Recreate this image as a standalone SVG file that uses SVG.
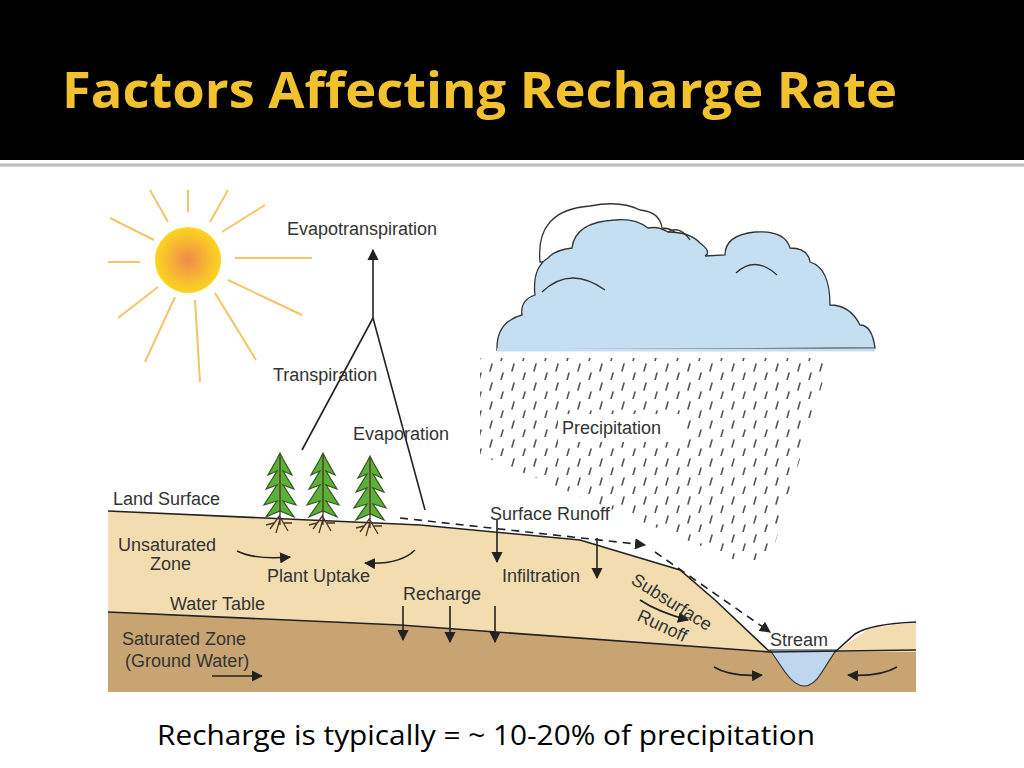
<svg xmlns="http://www.w3.org/2000/svg" width="1024" height="768" viewBox="0 0 1024 768">
<style>
.l{font-family:"Liberation Sans",Arial,sans-serif;font-size:18px;fill:#333}
.ln{stroke:#222;stroke-width:1.6;fill:none}
.ar{stroke:#222;stroke-width:1.6;fill:none;marker-end:url(#ah)}
.ray{stroke:#F4C46A;stroke-width:2}
.rain{stroke:#555;stroke-width:1.6;stroke-linecap:round}
</style>
<defs>
<marker id="ah" viewBox="0 0 10 10" refX="9" refY="5" markerWidth="7" markerHeight="7" orient="auto-start-reverse"><path d="M0,0 L10,5 L0,10 z" fill="#222"/></marker>
<radialGradient id="sun"><stop offset="0" stop-color="#F08A4B"/><stop offset="0.6" stop-color="#F8B832"/><stop offset="1" stop-color="#FBD520"/></radialGradient>
<pattern id="rp" width="22" height="19" patternUnits="userSpaceOnUse">
<line class="rain" x1="6" y1="10" x2="8" y2="3"/><line class="rain" x1="17" y1="19" x2="19" y2="12"/>
</pattern>
<g id="tree">
<path d="M0,-62 L-3,-56 L-12,-40 L-3,-44 L-14,-26 L-3,-30 L-16,-10 L-3,-14 L-14,2 L0,-4 L14,2 L3,-14 L16,-10 L3,-30 L14,-26 L3,-44 L12,-40 L3,-56 Z" fill="#5DAE3A" stroke="#2E5A1C" stroke-width="1.2"/>
<path d="M0,-60 V10 M0,0 L-10,14 M0,2 L8,16 M0,4 L-4,18 M-6,8 L-14,10 M4,8 L12,8" stroke="#4A3520" stroke-width="1.3" fill="none"/>
</g>
</defs>
<rect width="1024" height="768" fill="#fff"/>
<rect width="1024" height="160" fill="#000"/>
<line x1="0" y1="165" x2="1024" y2="165" stroke="#bbb" stroke-width="3"/>
<text x="62" y="108" font-family="'Open Sans',sans-serif" font-weight="bold" font-size="50" fill="#F2C12E" textLength="835" lengthAdjust="spacingAndGlyphs">Factors Affecting Recharge Rate</text>

<g id="ground">
<path d="M108,511 L420,525 L580,540 L680,570 L715,600 L770,652 L835,652 L870,628 L916,622 L916,692 L108,692 Z" fill="#F3DDB0"/>
<path d="M108,612 L400,625 L770,652 L916,652 L916,692 L108,692 Z" fill="#C9A473"/>
<path d="M770,650 L785,672 Q805,700 822,672 L836,650 Z" fill="#BED7EE" stroke="#333" stroke-width="1.2"/>
<path class="ln" d="M108,511 L420,525 L580,540 L680,570 L715,600 L770,652"/>
<path class="ln" d="M835,652 L855,634 Q870,624 916,622"/>
<path class="ln" d="M108,612 L400,625 L770,652 L916,650"/>
</g>

<g id="sun-g">
<g class="ray">
<line x1="188" y1="212" x2="188" y2="190"/><line x1="150" y1="190" x2="168" y2="222"/><line x1="210" y1="222" x2="228" y2="190"/>
<line x1="222" y1="232" x2="265" y2="205"/><line x1="110" y1="218" x2="154" y2="240"/><line x1="235" y1="258" x2="312" y2="258"/>
<line x1="108" y1="262" x2="140" y2="262"/><line x1="228" y1="280" x2="302" y2="315"/><line x1="118" y1="318" x2="158" y2="287"/>
<line x1="215" y1="293" x2="256" y2="360"/><line x1="145" y1="362" x2="175" y2="297"/><line x1="195" y1="300" x2="200" y2="382"/>
</g>
<circle cx="188" cy="260" r="33" fill="url(#sun)"/>
</g>

<g id="rain-g">
<polygon points="480,358 830,358 770,560 735,560 480,455" fill="url(#rp)"/>
<rect x="558" y="414" width="124" height="28" fill="#fff"/>
</g>

<g id="cloud">
<path d="M540,262 Q535,210 590,206 Q620,200 640,210 Q660,212 662,228 Q675,228 680,240 L620,260 Z" fill="#fff" stroke="#333" stroke-width="1.3"/>
<path d="M497,350 Q496,322 522,315 Q520,300 535,295 Q532,268 548,258 Q555,250 572,248 Q575,222 615,220 Q635,218 648,228 Q658,226 668,232 Q690,232 700,243 Q712,252 705,256 L725,255 Q725,235 755,232 Q785,230 790,248 Q808,248 810,262 Q830,268 830,305 Q850,305 860,325 Q872,325 875,348 Z" fill="#C5DFF2" stroke="#333" stroke-width="1.3"/>
<line x1="497" y1="350" x2="875" y2="350" stroke="#C5DFF2" stroke-width="3"/>
<path d="M542,292 Q570,265 605,290 M736,273 Q755,255 777,275 M668,232 Q680,225 690,240" fill="none" stroke="#333" stroke-width="1.3"/>
</g>

<g id="trees">
<use href="#tree" x="280" y="515"/><use href="#tree" x="323" y="515"/><use href="#tree" x="370" y="518"/>
</g>

<g id="connectors">
<line class="ar" x1="373" y1="318" x2="373" y2="250"/>
<line class="ln" x1="373" y1="318" x2="302" y2="450"/>
<line class="ln" x1="373" y1="318" x2="425" y2="510"/>
<path class="ar" d="M400,518 L645,545" stroke-dasharray="8,6"/>
<path class="ar" d="M655,552 L770,632" stroke-dasharray="8,6"/>
<line class="ar" x1="497" y1="520" x2="497" y2="562"/>
<line class="ar" x1="597" y1="538" x2="597" y2="578"/>
<line class="ar" x1="403" y1="606" x2="403" y2="640"/>
<line class="ar" x1="450" y1="606" x2="450" y2="642"/>
<line class="ar" x1="495" y1="606" x2="495" y2="642"/>
<path class="ar" d="M237,551 Q255,560 290,557"/>
<path class="ar" d="M415,550 Q400,565 365,563"/>
<path class="ar" d="M640,600 Q658,612 688,620"/>
<path class="ar" d="M714,667 Q730,677 762,675"/>
<path class="ar" d="M897,667 Q880,677 848,675"/>
<line class="ar" x1="212" y1="676" x2="262" y2="676"/>
</g>

<g id="labels">
<text class="l" x="287" y="235">Evapotranspiration</text>
<text class="l" x="273" y="381">Transpiration</text>
<text class="l" x="353" y="440">Evaporation</text>
<text class="l" x="562" y="434">Precipitation</text>
<text class="l" x="113" y="505">Land Surface</text>
<text class="l" x="490" y="520">Surface Runoff</text>
<text class="l" x="118" y="551">Unsaturated</text>
<text class="l" x="150" y="570">Zone</text>
<text class="l" x="267" y="582">Plant Uptake</text>
<text class="l" x="502" y="582">Infiltration</text>
<text class="l" x="403" y="600">Recharge</text>
<text class="l" x="170" y="610">Water Table</text>
<text class="l" transform="translate(630,583) rotate(32)">Subsurface</text>
<text class="l" transform="translate(636,620) rotate(25)">Runoff</text>
<text class="l" x="770" y="646">Stream</text>
<text class="l" x="122" y="645">Saturated Zone</text>
<text class="l" x="125" y="667">(Ground Water)</text>
</g>

<text x="157" y="745" font-family="'Open Sans',sans-serif" font-size="27" fill="#000" textLength="658" lengthAdjust="spacingAndGlyphs">Recharge is typically = ~ 10-20% of precipitation</text>
</svg>
